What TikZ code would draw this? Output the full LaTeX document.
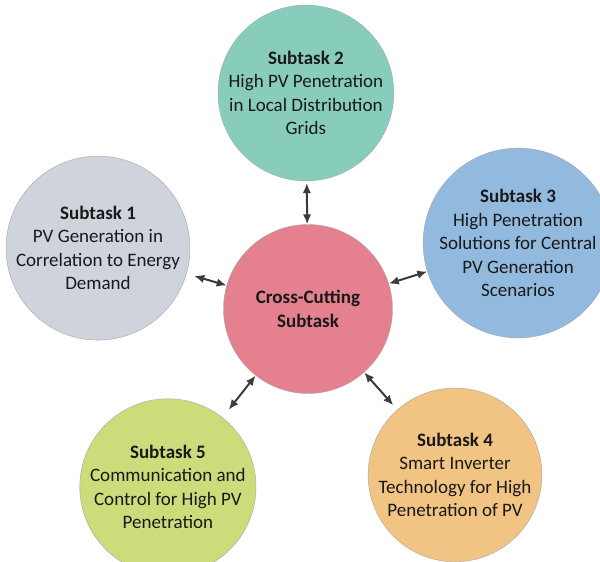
\documentclass[tikz,border=0pt]{standalone}
\usepackage{fontspec}
\setmainfont{Carlito}
\usepackage{tikz}
\usetikzlibrary{arrows.meta,shapes,calc,positioning}
\definecolor{cutpink}{RGB}{229,128,143}
\definecolor{gridteal}{RGB}{136,205,188}
\definecolor{demgray}{RGB}{207,211,219}
\definecolor{centblue}{RGB}{146,186,222}
\definecolor{invorange}{RGB}{241,196,132}
\definecolor{comgreen}{RGB}{204,220,122}
\definecolor{linkgray}{RGB}{60,60,60}

\begin{document}
\begin{tikzpicture}[x=30pt, y=30pt]
   \useasboundingbox (-10.267,-8.433) rectangle (9.733,10.3);
   \begin{scope}[every node/.style={circle,draw=gray!70,thin,minimum size=169pt,inner sep=0pt,align=center,text=black!90,font=\fontsize{19}{23.5}\selectfont}]
    \node (v0) [fill=cutpink] at (0,0) {\textbf{Cross-Cutting}\\\textbf{Subtask}};
    \node (v1) [fill=demgray] at (-7.0,2.03) {\textbf{Subtask 1}\\PV Generation in\\Correlation to Energy\\Demand};
    \node (v2) [fill=gridteal] at (-0.07,7.2) {\textbf{Subtask 2}\\High PV Penetration\\in Local Distribution\\Grids};
    \node (v3) [fill=centblue] at (7.0,2.2) {\textbf{Subtask 3}\\High Penetration\\Solutions for Central\\PV Generation\\Scenarios};
    \node (v4) [fill=invorange] at (4.9,-5.53) {\textbf{Subtask 4}\\Smart Inverter\\Technology for High\\Penetration of PV};
    \node (v5) [fill=comgreen] at (-4.67,-5.93) {\textbf{Subtask 5}\\Communication and\\Control for High PV\\Penetration};
   \end{scope}
   \begin{scope}[{Latex[length=10pt,width=8.5pt]}-{Latex[length=10pt,width=8.5pt]}, every edge/.style={draw=linkgray,line width=2pt}]
    \draw  (v2) edge [shorten <=2pt] (v0);
    \draw  (v1) edge [shorten <=8pt] (v0);
    \draw  (v3) edge (v0);
    \draw  (v4) edge [shorten <=6pt] (v0);
    \draw  (v5) edge [shorten <=10pt] (v0);
   \end{scope}
\end{tikzpicture}
\end{document}
